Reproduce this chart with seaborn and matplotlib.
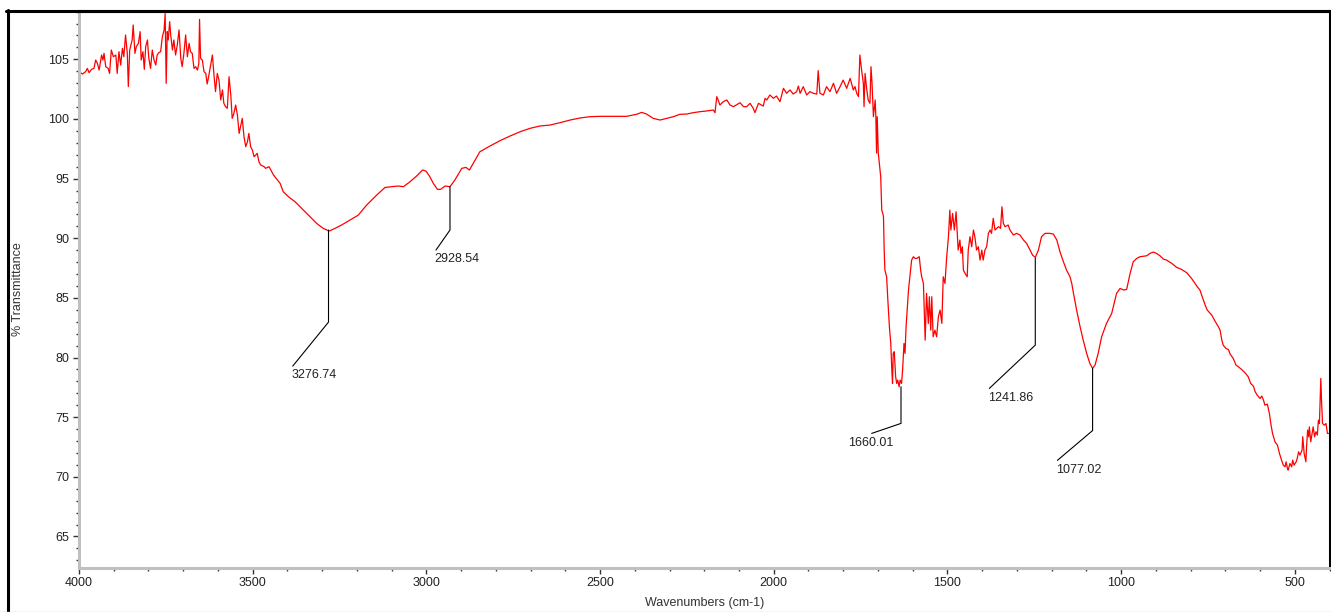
import matplotlib
matplotlib.use("Agg")
from matplotlib import pyplot as plt
from matplotlib import font_manager
from matplotlib.lines import Line2D
from matplotlib.ticker import MultipleLocator
import numpy as np
import pandas as pd
import seaborn as sns

# spectrum, split by region (wavenumber cm-1, % transmittance)
wn_high = [4000, 3990, 3981, 3976, 3971, 3964, 3957, 3952, 3947, 3942, 3935, 3931, 3928, 3923, 3916,
           3912, 3907, 3901, 3894, 3890, 3885, 3880, 3875, 3871, 3866, 3861, 3858, 3854, 3847, 3844,
           3839, 3835, 3829, 3824, 3821, 3816, 3812, 3808, 3803, 3799, 3794, 3789, 3784, 3779, 3775,
           3770, 3765, 3760, 3755, 3752, 3749, 3746, 3743, 3739, 3736, 3731, 3727, 3722, 3717, 3712,
           3707, 3703, 3698, 3693, 3688, 3683, 3679, 3674, 3669, 3664, 3659, 3655, 3653, 3650, 3645,
           3640, 3635, 3631, 3626, 3621, 3616, 3611, 3607, 3602, 3597, 3592, 3587, 3583, 3578, 3573,
           3568, 3563, 3559, 3554, 3549, 3544, 3539, 3535, 3530, 3525, 3520, 3515, 3511, 3506, 3501,
           3496, 3491, 3487, 3482, 3477, 3467, 3463, 3453, 3440]
t_high = [103.96, 103.77, 103.96, 104.24, 103.88, 104.16, 104.24, 104.94, 104.66, 104.10, 105.36, 104.94,
          105.50, 104.38, 104.24, 103.82, 105.78, 105.22, 105.36, 103.82, 105.64, 104.52, 105.92, 105.22,
          107.04, 105.50, 102.71, 105.78, 106.62, 107.88, 105.50, 106.06, 106.34, 107.32, 104.94, 105.64,
          104.16, 106.06, 106.62, 105.08, 104.24, 105.78, 104.94, 104.52, 105.36, 105.56, 105.64, 106.90,
          107.46, 108.85, 102.98, 107.32, 106.62, 108.16, 107.04, 105.78, 106.62, 105.36, 106.20, 107.46,
          105.08, 104.38, 105.50, 107.04, 105.22, 106.34, 105.64, 105.50, 104.24, 104.38, 104.10, 104.66,
          108.35, 105.08, 104.94, 103.96, 103.82, 102.93, 103.68, 104.52, 105.36, 103.54, 102.29, 103.82,
          103.26, 101.59, 102.43, 101.31, 101.03, 100.89, 103.54, 102.01, 100.05, 100.47, 101.17, 100.33,
          98.79, 99.35, 100.05, 98.51, 97.68, 98.09, 98.79, 97.68, 97.40, 96.84, 96.98, 97.12,
          96.42, 96.14, 96.00, 95.86, 96.00, 95.30]

wn_oh = [3421, 3412, 3397, 3378, 3354, 3335, 3316, 3297, 3280, 3263, 3244, 3220, 3196, 3172, 3143,
         3119, 3100, 3081, 3066, 3047, 3028, 3011, 3001, 2990, 2980, 2968, 2959, 2946, 2932, 2918,
         2898, 2886, 2876, 2865, 2846, 2817, 2788]
t_oh = [94.60, 93.90, 93.48, 93.06, 92.36, 91.80, 91.25, 90.83, 90.60, 90.83, 91.11, 91.52, 91.94, 92.78,
        93.62, 94.26, 94.32, 94.38, 94.32, 94.74, 95.22, 95.72, 95.63, 95.16, 94.60, 94.10, 94.10, 94.38,
        94.32, 94.88, 95.86, 95.94, 95.72, 96.28, 97.25, 97.73, 98.18]

wn_mid = [2759, 2730, 2702, 2673, 2644, 2615, 2586, 2558, 2529, 2500, 2462, 2423, 2395, 2380, 2366,
          2347, 2327, 2308, 2289, 2270, 2251, 2231, 2212, 2193, 2174, 2169, 2164, 2160, 2155, 2145,
          2135, 2126, 2116, 2097, 2087, 2078, 2068, 2059, 2054, 2044, 2030, 2025, 2020, 2011, 2001,
          1992, 1982, 1972, 1963, 1953, 1944, 1934, 1929, 1924, 1915, 1905, 1896, 1886, 1876, 1872,
          1867, 1857, 1848, 1838, 1828, 1819, 1809, 1800, 1790]
t_mid = [98.57, 98.93, 99.21, 99.41, 99.49, 99.69, 99.91, 100.08, 100.19, 100.22, 100.22, 100.22, 100.39,
         100.55, 100.41, 100.05, 99.91, 100.05, 100.19, 100.39, 100.41, 100.53, 100.61, 100.67, 100.75,
         100.53, 101.87, 101.59, 101.17, 101.45, 101.59, 101.17, 101.03, 101.36, 101.03, 101.03, 101.31,
         100.89, 100.53, 101.31, 101.08, 101.73, 101.59, 102.01, 101.73, 101.92, 101.45, 102.57, 102.15,
         102.43, 102.09, 102.29, 102.76, 102.15, 102.71, 102.01, 102.29, 102.15, 102.09, 104.05, 102.15,
         102.01, 102.71, 102.29, 102.99, 102.15, 102.71, 103.26, 102.57]

wn_amide = [1780, 1776, 1771, 1766, 1761, 1756, 1752, 1747, 1742, 1740, 1737, 1732, 1728, 1723, 1720,
            1717, 1713, 1708, 1706, 1704, 1702, 1699, 1696, 1692, 1689, 1686, 1684, 1682, 1680, 1675,
            1672, 1667, 1663, 1660, 1658, 1656, 1653, 1649, 1646, 1643, 1639, 1636, 1632, 1629, 1625,
            1622, 1619, 1612, 1608, 1603, 1598, 1593, 1588, 1581, 1577, 1574, 1569, 1564, 1560, 1555,
            1552, 1548, 1545, 1541, 1536, 1531, 1526, 1521, 1516, 1512, 1507, 1502, 1497, 1493, 1490,
            1485, 1480, 1475, 1471, 1469, 1464, 1461, 1457, 1454, 1449, 1443, 1440, 1435, 1430, 1425,
            1421, 1416, 1411, 1406, 1401, 1397, 1392, 1387, 1382, 1377, 1373, 1368, 1363, 1353, 1347,
            1343, 1339, 1334, 1325, 1320, 1310, 1301, 1291, 1281, 1272, 1262, 1255, 1247, 1238, 1229,
            1219]
t_amide = [103.40, 102.99, 102.43, 102.71, 102.15, 101.87, 105.36, 104.10, 102.99, 101.03, 103.82, 102.43,
           101.59, 101.31, 104.38, 102.99, 100.19, 101.59, 100.19, 97.14, 100.19, 97.14, 96.28, 95.16,
           92.36, 92.08, 91.81, 89.01, 87.33, 86.77, 85.10, 82.58, 81.18, 78.95, 77.83, 80.35, 80.49,
           78.39, 77.83, 78.11, 77.55, 78.11, 77.83, 78.95, 81.18, 80.35, 82.58, 85.66, 86.77, 88.17,
           88.45, 88.31, 88.31, 88.45, 87.33, 86.77, 86.21, 81.46, 85.38, 82.86, 85.10, 82.30, 85.10,
           81.74, 82.30, 81.74, 83.42, 83.98, 82.86, 86.77, 86.21, 88.45, 90.13, 92.36, 90.69, 92.08,
           90.69, 92.22, 90.13, 89.01, 89.85, 88.73, 89.29, 87.33, 87.05, 86.77, 89.01, 90.13, 89.29,
           90.69, 90.13, 89.01, 89.29, 88.17, 89.01, 88.17, 89.01, 89.29, 90.41, 90.69, 90.41, 91.67,
           90.69, 90.97, 90.83, 92.64, 91.25, 90.97, 91.11, 90.69, 90.27, 90.41, 90.27, 89.85, 89.57,
           89.01, 88.59, 88.40, 89.01, 90.13, 90.41]

wn_finger = [1205, 1195, 1185, 1176, 1166, 1157, 1147, 1142, 1137, 1128, 1118, 1109, 1099, 1090, 1082,
             1075, 1066, 1056, 1042, 1027, 1013, 1003, 992, 984, 974, 965, 955, 946, 926, 917,
             907, 898, 888, 878, 869, 854, 840, 826, 811, 797, 782, 773]
t_finger = [90.41, 90.35, 89.85, 88.87, 88.03, 87.33, 86.77, 86.21, 85.38, 83.98, 82.58, 81.46, 80.34,
            79.51, 79.09, 79.37, 80.34, 81.74, 82.86, 83.70, 85.38, 85.79, 85.66, 85.71, 87.05, 88.03,
            88.31, 88.45, 88.53, 88.73, 88.84, 88.73, 88.53, 88.25, 88.17, 87.89, 87.56, 87.39, 87.11,
            86.63, 85.99, 85.66]

wn_low = [768, 758, 752, 739, 730, 720, 715, 710, 706, 698, 691, 686, 677, 669, 662, 653, 643, 634,
          627, 619, 614, 608, 600, 595, 590, 586, 579, 573, 569, 564, 557, 550, 544, 538, 533, 528,
          525, 521, 519, 514, 509, 506, 502, 496, 493, 489, 485, 479, 477, 473, 468, 466, 463, 460,
          458, 454, 450, 447, 443, 439, 435, 432, 429, 425, 423, 420, 415, 410, 406, 403]
t_low = [85.23, 84.40, 83.98, 83.56, 83.08, 82.58, 82.30, 81.46, 81.04, 80.76, 80.68, 80.29, 79.92,
         79.36, 79.22, 79.00, 78.72, 78.39, 77.83, 77.60, 77.13, 76.85, 76.57, 76.77, 76.43, 76.01,
         76.10, 75.31, 74.47, 73.64, 72.94, 72.66, 71.96, 71.40, 70.98, 70.84, 71.26, 70.70, 70.56,
         71.12, 70.84, 71.40, 70.98, 71.26, 71.54, 72.10, 71.82, 72.24, 73.36, 71.96, 71.26, 72.52,
         73.92, 73.36, 74.19, 72.94, 73.64, 74.19, 73.36, 73.78, 73.50, 74.75, 74.47, 78.25, 76.43,
         74.47, 74.33, 74.47, 73.64, 73.64]

# peak pickers: label, vertical line x, top of line, knee, end of leader
peak_labels = ["3276.74", "2928.54", "1660.01", "1241.86", "1077.02"]
peak_wn = [3281.7, 2932.0, 1633.6, 1247.0, 1082.0]
peak_top = [90.69, 94.32, 77.55, 88.34, 79.09]
peak_knee = [82.97, 90.69, 74.48, 81.04, 73.88]
leader_wn = [3384.8, 2972.3, 1718.0, 1379.4, 1183.4]
leader_t = [79.28, 89.01, 73.64, 77.41, 71.38]
label_ha = ["left", "left", "center", "left", "left"]

W, H = 1331, 612

sns.set_style("white")
names = {f.name for f in font_manager.fontManager.ttflist}
if "Liberation Sans Narrow" in names:
    plt.rcParams["font.family"] = ["Liberation Sans Narrow", "DejaVu Sans"]
    fs = 10.5
else:
    plt.rcParams["font.family"] = ["Liberation Sans", "DejaVu Sans"]
    fs = 9

fig = plt.figure(figsize=(W / 100, H / 100), dpi=100)
ax = fig.add_axes([79 / W, 1 - 567.5 / H, 1250.5 / W, 556.5 / H])

wn = wn_high + wn_oh + wn_mid + wn_amide + wn_finger + wn_low
tr = t_high + t_oh + t_mid + t_amide + t_finger + t_low
df = pd.DataFrame({"wavenumber": wn, "transmittance": tr})
sns.lineplot(data=df, x="wavenumber", y="transmittance", sort=False, estimator=None,
             color="#ff0000", lw=0.9, ax=ax)

for i in range(len(peak_labels)):
    ax.plot([peak_wn[i], peak_wn[i], leader_wn[i]], [peak_top[i], peak_knee[i], leader_t[i]],
            color="black", lw=0.8)
    ax.annotate(peak_labels[i], xy=(leader_wn[i], leader_t[i]), xytext=(-1, -6.6),
                textcoords="offset points", ha=label_ha[i], va="center",
                fontsize=fs, color="#222222")

ax.set_xlim(4000, 400)
ax.set_ylim(62.4, 109.05)
ax.xaxis.set_major_locator(MultipleLocator(500))
ax.xaxis.set_minor_locator(MultipleLocator(100))
ax.yaxis.set_major_locator(MultipleLocator(5))
ax.yaxis.set_minor_locator(MultipleLocator(1))
ax.set_xticks([4000, 3500, 3000, 2500, 2000, 1500, 1000, 500])
ax.set_yticks([65, 70, 75, 80, 85, 90, 95, 100, 105])
ax.tick_params(which="both", bottom=True, left=True, top=False, right=False, direction="out",
               color="#333333", width=1)
ax.tick_params(which="major", length=4, pad=3, labelsize=fs, labelcolor="#222222")
ax.tick_params(which="minor", length=2)

ax.set_xlabel("Wavenumbers (cm-1)", fontsize=fs, color="#333333", va="center")
ax.xaxis.set_label_coords(0.5, -0.064)
ax.set_ylabel("% Transmittance", fontsize=fs, color="#333333", va="center")
ax.yaxis.set_label_coords(-0.049, 0.5)

for side in ["left", "bottom"]:
    ax.spines[side].set_color("#c0c0c0")
    ax.spines[side].set_linewidth(2.2)
for side in ["top", "right"]:
    ax.spines[side].set_color("black")
    ax.spines[side].set_linewidth(2.2)

# outer frame of the exported picture
fig.add_artist(Line2D([7.5 / W, 7.5 / W], [0, 1 - 10 / H], color="black", lw=2.2))
fig.add_artist(Line2D([6 / W, 1330 / W], [1 - 11 / H, 1 - 11 / H], color="black", lw=2.2))
fig.add_artist(Line2D([0, 1], [1 - 611.5 / H, 1 - 611.5 / H], color="#c8c8c8", lw=1))

fig.savefig("out.png", dpi=100)
